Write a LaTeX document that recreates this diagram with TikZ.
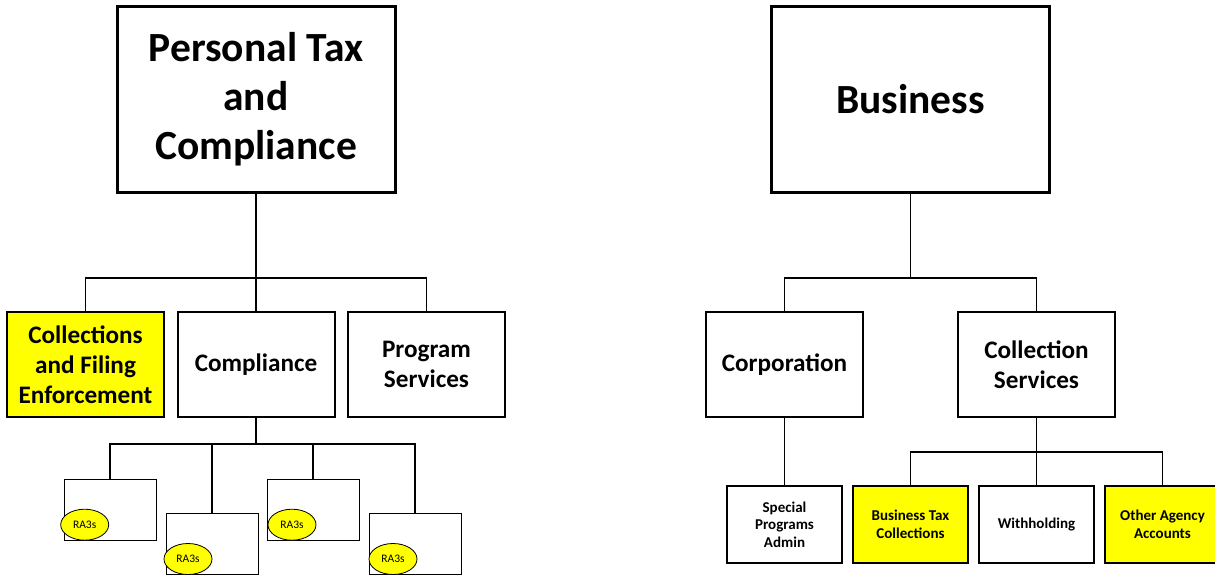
\documentclass[tikz,border=0pt]{standalone}
\usepackage{fontspec}
\setmainfont{Carlito}
\usepackage{xcolor}
\usepackage{tikz}
\usetikzlibrary{shapes.geometric}
\definecolor{hilite}{RGB}{255,255,0}
\newcommand{\rathree}[2]{\node [ra] (#1) at (#2) {RA3s}}

\begin{document}
\begin{tikzpicture}[x=1pt,y=-1pt,
    head/.style={draw,line width=3pt,minimum width=278pt,minimum height=185pt,align=center,
      font=\fontsize{41.5}{49}\selectfont\bfseries},
    unit/.style={draw,line width=2pt,minimum width=157pt,minimum height=105pt,align=center,
      font=\fontsize{25.2}{30}\selectfont\bfseries},
    sub/.style={draw,line width=1.3pt,minimum width=115pt,minimum height=77pt,align=center,
      font=\fontsize{15}{17.7}\selectfont\bfseries},
    team/.style={draw,line width=0.9pt,fill=white,minimum width=92pt,minimum height=61pt},
    ra/.style={ellipse,draw,line width=0.8pt,fill=hilite,minimum width=48pt,minimum height=31pt,
      inner sep=0pt,font=\fontsize{11.5}{13}\selectfont},
    link/.style={line width=1.7pt}]
    \useasboundingbox (0,0) rectangle (1215,575);

    % personal tax side
    \node[head] (ptc) at (256,99.5) {Personal Tax\\and\\Compliance};
    \node[unit,fill=hilite] (cfe) at (85.5,364.5) {Collections\\and Filing\\Enforcement};
    \node[unit] (comp) at (256,364.5) {Compliance};
    \node[unit] (prog) at (426.5,364.5) {Program\\Services};
    \coordinate (j1) at (256,278);

    \draw[link] (ptc) -- (j1);
    \draw[link] (cfe.north) |- (j1) -| (prog.north);
    \draw[link] (j1) -- (comp.north);

    \node[team] (t1) at (110,509.5) {};
    \node[team] (t2) at (212,544) {};
    \node[team] (t3) at (313,509.5) {};
    \node[team] (t4) at (415,544) {};
    \coordinate (j2) at (256,444);

    \draw[link] (comp) -- (j2);
    \draw[link] (t1.north) |- (j2) -| (t4.north);
    \draw[link] (t2.north) |- (j2);
    \draw[link] (t3.north) |- (j2);

    \rathree{r1}{84.7,524.7};
    \rathree{r2}{188,559};
    \rathree{r3}{292,524.7};
    \rathree{r4}{393,559};

    % business side
    \node[head] (bus) at (910.5,99.5) {Business};
    \node[unit] (corp) at (784.5,364.5) {Corporation};
    \node[unit] (cs) at (1036.5,364.5) {Collection\\Services};
    \coordinate (j3) at (910.5,278);

    \draw[link] (bus) -- (j3);
    \draw[link] (corp.north) |- (j3) -| (cs.north);

    \node[sub] (spa) at (784.5,524.5) {Special\\Programs\\Admin};
    \node[sub,fill=hilite] (btc) at (910.5,524.5) {Business Tax\\Collections};
    \node[sub] (wh) at (1036.5,524.5) {Withholding};
    \node[sub,fill=hilite] (oaa) at (1162.5,524.5) {Other Agency\\Accounts};
    \coordinate (j4) at (1036.5,452);

    \draw[link] (corp) -- (spa);
    \draw[link] (cs) -- (j4);
    \draw[link] (btc.north) |- (j4) -| (oaa.north);
    \draw[link] (j4) -- (wh.north);
\end{tikzpicture}
\end{document}
